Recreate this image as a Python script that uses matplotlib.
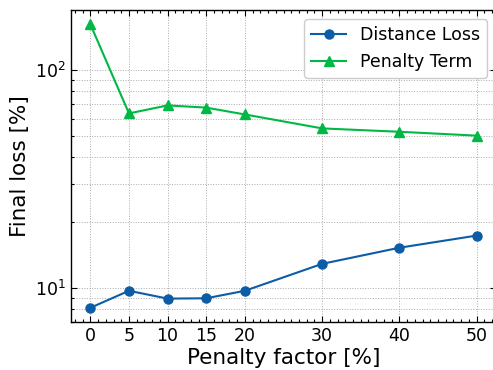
import numpy as np
import matplotlib.pyplot as plt
from matplotlib.ticker import MultipleLocator, LogLocator

# Data
penalty = [0, 5, 10, 15, 20, 30, 40, 50]
distance_loss = [8.1, 9.7, 8.93, 8.96, 9.7, 12.9, 15.3, 17.4]
penalty_term = [163, 63.4, 69.0, 67.4, 62.7, 54.1, 52.2, 50.1]

fig = plt.figure(figsize=(4.93, 3.70), dpi=100)
ax = fig.add_axes([71/493, 48/370, 425/493, 312/370])

ax.plot(penalty, distance_loss, marker="o", color="#0C5DA5", lw=1.5,
        markersize=6.5, label="Distance Loss")
ax.plot(penalty, penalty_term, marker="^", color="#00B945", lw=1.5,
        markersize=6.5, label="Penalty Term")

ax.set_yscale("log")
ax.set_xticks(penalty)
ax.xaxis.set_minor_locator(MultipleLocator(1))
ax.yaxis.set_minor_locator(LogLocator(base=10, subs=np.arange(2, 10)))

ax.grid(True, which="major", linestyle=":", color="#aaaaaa", lw=0.7)
ax.grid(True, which="minor", axis="y", linestyle=":", color="#aaaaaa", lw=0.7)

ax.tick_params(which="both", direction="in", top=True, right=True, labelsize=12.5)
ax.tick_params(which="major", length=4, width=0.8)
ax.tick_params(which="minor", length=2, width=0.8)
for s in ax.spines.values():
    s.set_linewidth(1.0)

ax.set_xlabel("Penalty factor [%]", fontsize=15.5, labelpad=2)
ax.set_ylabel("Final loss [%]", fontsize=15.5, labelpad=4)
ax.legend(loc="upper right", fontsize=12.5, fancybox=True, framealpha=1,
          borderaxespad=0, bbox_to_anchor=(0.979, 0.971))

fig.savefig("out.png", dpi=100)
